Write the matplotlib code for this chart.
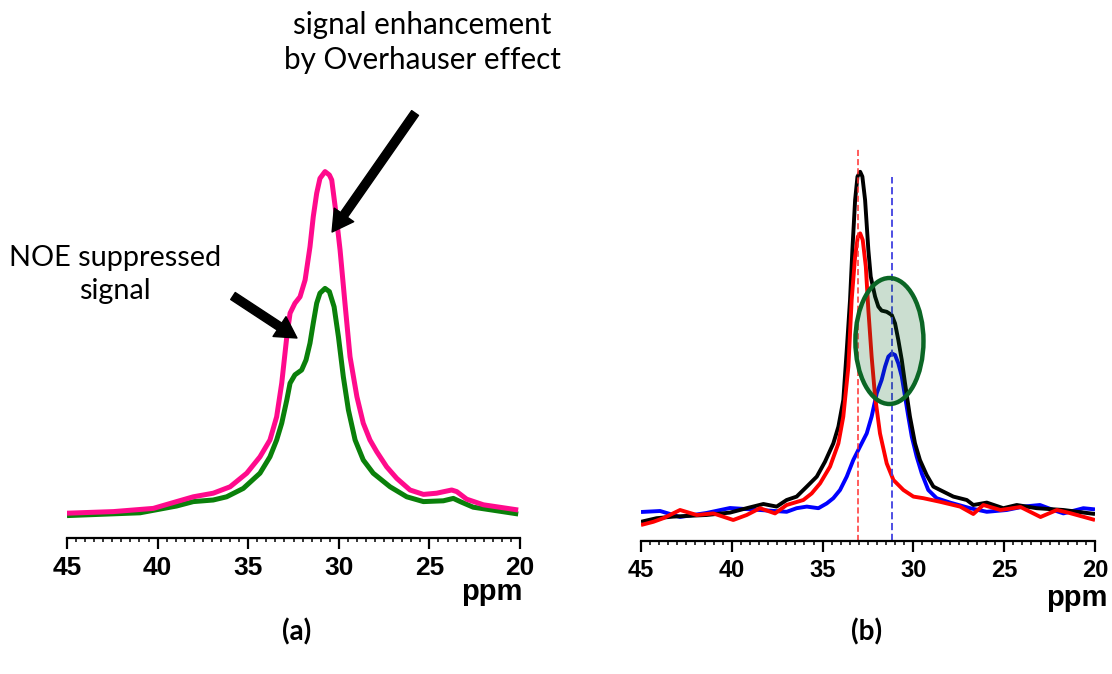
import numpy as np
import matplotlib
matplotlib.use("Agg")
import matplotlib.pyplot as plt
from matplotlib.patches import Ellipse
from matplotlib.ticker import MultipleLocator

# ---- panel (a) (ppm, relative intensity)
ppm_a_pink = [45.0, 42.44, 40.24, 38.95, 38.03, 36.93, 36.0, 35.08, 34.35, 33.8, 33.43, 33.15,
              32.87, 32.69, 32.42, 32.14, 31.86, 31.59, 31.41, 31.22, 31.04, 30.76, 30.52, 30.39,
              30.2, 29.93, 29.66, 29.38, 29.0, 28.65, 28.28, 27.91, 27.36, 26.8, 26.07, 25.33,
              24.6, 23.77, 23.49, 22.94, 22.02, 20.1]
int_a_pink = [0.062, 0.066, 0.074, 0.091, 0.103, 0.112, 0.128, 0.162, 0.203, 0.245, 0.303, 0.387,
              0.503, 0.562, 0.587, 0.603, 0.645, 0.728, 0.803, 0.862, 0.899, 0.916, 0.9075, 0.895,
              0.828, 0.72, 0.587, 0.453, 0.353, 0.287, 0.245, 0.216, 0.178, 0.149, 0.12, 0.109,
              0.112, 0.12, 0.116, 0.097, 0.083, 0.07]

ppm_a_green = [45.0, 40.97, 38.95, 38.03, 36.93, 36.19, 35.27, 34.35, 33.8, 33.43, 33.15, 32.87,
               32.69, 32.42, 32.05, 31.81, 31.59, 31.41, 31.22, 31.04, 30.76, 30.52, 30.26, 30.02,
               29.75, 29.47, 29.1, 28.65, 28.1, 27.17, 26.25, 25.33, 24.23, 23.68, 23.3, 22.58,
               20.1]
int_a_green = [0.056, 0.063, 0.08, 0.091, 0.095, 0.103, 0.124, 0.162, 0.203, 0.245, 0.287, 0.345,
               0.387, 0.408, 0.42, 0.445, 0.487, 0.537, 0.587, 0.612, 0.624, 0.616, 0.578, 0.503,
               0.403, 0.32, 0.245, 0.195, 0.162, 0.128, 0.103, 0.091, 0.093, 0.099, 0.091, 0.077,
               0.06]

# ---- panel (b)
ppm_b_black = [45.0, 44.14, 43.22, 41.4, 40.1, 39.18, 38.26, 37.53, 36.98, 36.43, 35.87, 35.32,
               34.87, 34.41, 34.13, 33.86, 33.67, 33.49, 33.36, 33.21, 33.08, 32.93, 32.81, 32.66,
               32.48, 32.35, 32.11, 31.93, 31.75, 31.47, 31.19, 31.01, 30.83, 30.64, 30.46, 30.19,
               29.91, 29.64, 29.27, 28.9, 28.53, 27.8, 27.06, 26.7, 25.96, 25.05, 24.31, 23.21,
               21.74, 20.0]
int_b_black = [0.048, 0.057, 0.061, 0.065, 0.071, 0.082, 0.0925, 0.086, 0.1025, 0.111, 0.136,
               0.161, 0.198, 0.244, 0.286, 0.3525, 0.4775, 0.6025, 0.7275, 0.8525, 0.911, 0.923,
               0.911, 0.8525, 0.7275, 0.661, 0.611, 0.586, 0.576, 0.573, 0.565, 0.544, 0.5025,
               0.4525, 0.394, 0.311, 0.244, 0.2025, 0.165, 0.136, 0.1275, 0.111, 0.1025, 0.09,
               0.096, 0.082, 0.09, 0.082, 0.0775, 0.0675]

ppm_b_red = [45.0, 44.32, 43.77, 42.85, 41.93, 41.02, 39.92, 39.18, 38.45, 37.62, 36.98, 36.06,
             35.6, 35.14, 34.59, 34.13, 33.86, 33.58, 33.4, 33.21, 33.06, 32.93, 32.79, 32.62,
             32.48, 32.3, 32.11, 31.84, 31.47, 31.1, 30.55, 30.0, 29.45, 28.53, 27.43, 26.7,
             26.15, 25.2, 24.1, 23.0, 22.1, 21.4, 20.6, 20.0]
int_b_red = [0.04, 0.048, 0.057, 0.0775, 0.065, 0.069, 0.0525, 0.065, 0.082, 0.069, 0.09, 0.1025,
             0.119, 0.144, 0.186, 0.244, 0.311, 0.436, 0.6025, 0.711, 0.761, 0.769, 0.7525, 0.686,
             0.5775, 0.461, 0.361, 0.269, 0.194, 0.1525, 0.1275, 0.111, 0.107, 0.098, 0.086,
             0.0675, 0.09, 0.0775, 0.085, 0.06, 0.0775, 0.07, 0.06, 0.0525]

ppm_b_blue = [45.0, 43.95, 42.85, 41.4, 40.1, 38.45, 36.98, 36.43, 35.87, 35.23, 34.77, 34.41,
              34.04, 33.67, 33.31, 32.94, 32.57, 32.3, 32.02, 31.75, 31.56, 31.38, 31.19, 31.01,
              30.83, 30.64, 30.46, 30.28, 30.09, 29.82, 29.54, 29.18, 28.72, 27.98, 26.88, 25.96,
              24.86, 23.95, 23.03, 22.3, 21.74, 20.64, 20.0]
int_b_blue = [0.0725, 0.075, 0.06, 0.07, 0.0825, 0.0775, 0.073, 0.082, 0.086, 0.082, 0.094, 0.107,
              0.1275, 0.161, 0.2025, 0.236, 0.269, 0.311, 0.369, 0.4025, 0.436, 0.461, 0.469,
              0.465, 0.444, 0.411, 0.361, 0.311, 0.261, 0.211, 0.169, 0.1275, 0.107, 0.096, 0.082,
              0.073, 0.0775, 0.086, 0.09, 0.0775, 0.069, 0.082, 0.079]

red_peak_ppm = 33.05
blue_peak_ppm = 31.2
ticks = [45, 40, 35, 30, 25, 20]

fig = plt.figure(figsize=(11.12, 6.74), dpi=100)
ax1 = fig.add_axes([67 / 1112, 136 / 674, 453 / 1112, 400 / 674])
ax2 = fig.add_axes([641 / 1112, 133 / 674, 454 / 1112, 400 / 674])

kw = dict(solid_joinstyle="round", solid_capstyle="butt")
ax1.plot(ppm_a_green, int_a_green, color="#0a800a", lw=3.6, **kw)
ax1.plot(ppm_a_pink, int_a_pink, color="#ff0a8c", lw=3.6, **kw)

ax2.plot(ppm_b_blue, int_b_blue, color="#0000ff", lw=2.8, **kw)
ax2.plot(ppm_b_black, int_b_black, color="black", lw=2.8, **kw)
ax2.plot(ppm_b_red, int_b_red, color="#ff0000", lw=2.8, **kw)
ax2.plot([red_peak_ppm, red_peak_ppm], [0, 0.98], color="#ff3030", lw=1.1, ls=(0, (4, 2)), clip_on=False)
ax2.plot([blue_peak_ppm, blue_peak_ppm], [0, 0.91], color="#4040e0", lw=1.3, ls=(0, (4, 2)), clip_on=False)
# translucent highlight drawn over the traces
ax2.add_patch(Ellipse((31.32, 0.5), 3.75, 0.315, facecolor=(0.043, 0.4, 0.145, 0.21),
                      edgecolor="#0b6625", lw=3.2, zorder=3))

for ax, fs in ((ax1, 19), (ax2, 17)):
    ax.set_xlim(45, 20)
    ax.set_ylim(0, 1)
    for s in ("top", "right", "left"):
        ax.spines[s].set_visible(False)
    ax.spines["bottom"].set_linewidth(1.6)
    ax.set_yticks([])
    ax.set_xticks(ticks)
    ax.xaxis.set_minor_locator(MultipleLocator(0.5))
    ax.tick_params(axis="x", which="major", length=8, width=1.6, pad=5)
    ax.tick_params(axis="x", which="minor", length=3, width=1.1)
    for lab in ax.get_xticklabels():
        lab.set_fontfamily("Liberation Sans")
        lab.set_fontweight("bold")
        lab.set_fontsize(fs)
    ax.patch.set_visible(False)

fig.text(522 / 1112, 1 - 592 / 674, "ppm", ha="right", va="center", fontsize=21,
         fontweight="bold", family="Liberation Sans")
fig.text(1107 / 1112, 1 - 598 / 674, "ppm", ha="right", va="center", fontsize=21,
         fontweight="bold", family="Liberation Sans")

fig.text(422 / 1112, 1 - 42.5 / 674, "signal enhancement\nby Overhauser effect", ha="center",
         va="center", ma="center", fontsize=21.3, family="Lato", linespacing=1.3)
fig.text(115 / 1112, 1 - 274.5 / 674, "NOE suppressed\nsignal", ha="center",
         va="center", ma="center", fontsize=20.8, family="Lato", linespacing=1.35)

fig.text(297 / 1112, 1 - 632 / 674, "(a)", ha="center", va="center", fontsize=20,
         fontweight="bold", family="Lato")
fig.text(867 / 1112, 1 - 632 / 674, "(b)", ha="center", va="center", fontsize=20,
         fontweight="bold", family="Lato")

arrow = dict(facecolor="black", edgecolor="black", width=6, headwidth=17, headlength=15, shrink=0)
ax1.annotate("", xy=(30.37, 0.765), xytext=(25.79, 1.0625), arrowprops=arrow, annotation_clip=False)
ax1.annotate("", xy=(32.31, 0.50), xytext=(35.84, 0.605), arrowprops=arrow, annotation_clip=False)

fig.savefig("out.png", dpi=100)
